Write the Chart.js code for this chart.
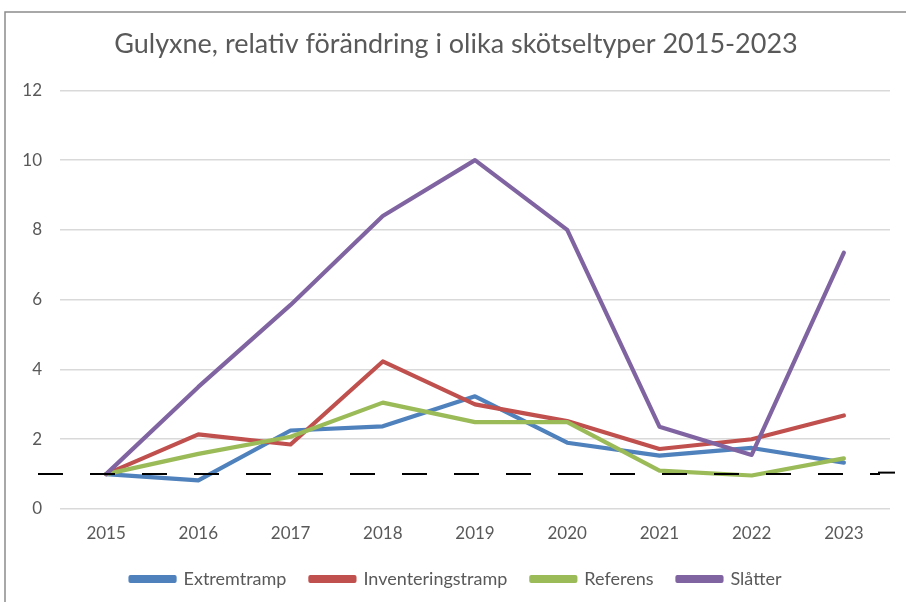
<!DOCTYPE html>
<html>
<head>
<meta charset="utf-8">
<script src="https://cdn.jsdelivr.net/npm/chart.js@4"></script>
<style>
  html, body { margin: 0; padding: 0; background: #fff; }
  #wrap { width: 906px; height: 602px; }
</style>
</head>
<body>
<div id="wrap"><canvas id="mycanvas" width="906" height="602"></canvas></div>
<script>
var years = ["2015", "2016", "2017", "2018", "2019", "2020", "2021", "2022", "2023"];
var extremtramp = [1.0, 0.82, 2.25, 2.37, 3.23, 1.9, 1.53, 1.75, 1.33];
var inventeringstramp = [1.0, 2.14, 1.85, 4.23, 3.0, 2.52, 1.72, 2.0, 2.68];
var referens = [1.0, 1.58, 2.07, 3.05, 2.49, 2.49, 1.1, 0.96, 1.45];
var slatter = [1.0, 3.5, 5.85, 8.4, 10.0, 8.0, 2.36, 1.55, 7.35];
var baseline = 1;

var textColor = "#595959";

// frame + dashed reference line at value 1
var extras = {
  id: "extras",
  beforeDraw: function(chart) {
    var ctx = chart.ctx;
    ctx.save();
    ctx.fillStyle = "#fff";
    ctx.fillRect(0, 0, chart.width, chart.height);
    ctx.strokeStyle = "#8c8c8c";
    ctx.lineWidth = 1.5;
    ctx.beginPath();
    ctx.moveTo(5, chart.height);
    ctx.lineTo(5, 12);
    ctx.lineTo(chart.width, 12);
    ctx.stroke();
    ctx.restore();
  },
  afterDatasetsDraw: function(chart) {
    var ctx = chart.ctx;
    var y = chart.scales.y.getPixelForValue(baseline);
    ctx.save();
    ctx.strokeStyle = "#000";
    ctx.lineWidth = 2;
    ctx.setLineDash([25, 27]);
    ctx.beginPath();
    ctx.moveTo(38, y);
    ctx.lineTo(880, y);
    ctx.stroke();
    ctx.setLineDash([]);
    ctx.beginPath();
    ctx.moveTo(878, y - 1.5);
    ctx.lineTo(895, y - 1.5);
    ctx.stroke();
    ctx.restore();
  }
};

var chartdata = {
  labels: years,
  datasets: [
    { label: "Extremtramp", data: extremtramp, borderColor: "#4F81BD", backgroundColor: "#4F81BD", order: 4 },
    { label: "Inventeringstramp", data: inventeringstramp, borderColor: "#C0504D", backgroundColor: "#C0504D", order: 3 },
    { label: "Referens", data: referens, borderColor: "#9BBB59", backgroundColor: "#9BBB59", order: 2 },
    { label: "Slåtter", data: slatter, borderColor: "#8064A2", backgroundColor: "#8064A2", order: 1 }
  ]
};

var ctx1 = document.getElementById("mycanvas");
var LineGraph = new Chart(ctx1, {
  type: "line",
  data: chartdata,
  plugins: [extras],
  options: {
    responsive: false,
    animation: false,
    layout: { padding: { left: 22, right: 16, top: 0, bottom: 4 } },
    elements: {
      line: { borderWidth: 4.2, tension: 0, borderCapStyle: "round", borderJoinStyle: "round" },
      point: { radius: 0 }
    },
    plugins: {
      title: {
        display: true,
        text: "Gulyxne, relativ förändring i olika skötseltyper 2015-2023",
        color: textColor,
        font: { family: "Lato", size: 27, weight: "normal" },
        padding: { top: 28, bottom: 30 }
      },
      legend: {
        position: "bottom",
        labels: {
          color: textColor,
          font: { family: "Lato", size: 18 },
          boxWidth: 44,
          boxHeight: 4,
          padding: 24,
          sort: function(a, b) { return a.datasetIndex - b.datasetIndex; }
        }
      },
      tooltip: { enabled: false }
    },
    scales: {
      x: {
        offset: true,
        grid: { display: false, drawTicks: false },
        border: { display: false },
        ticks: { color: textColor, font: { family: "Lato", size: 17 }, padding: 14 },
        afterFit: function(scale) { scale.height = 37; }
      },
      y: {
        min: 0,
        max: 12,
        ticks: { stepSize: 2, color: textColor, font: { family: "Lato", size: 17 }, padding: 18 },
        grid: { color: "#d9d9d9", lineWidth: 1.5, drawTicks: false },
        border: { display: false },
        afterFit: function(scale) { scale.width = 38; }
      }
    }
  }
});
</script>
</body>
</html>
